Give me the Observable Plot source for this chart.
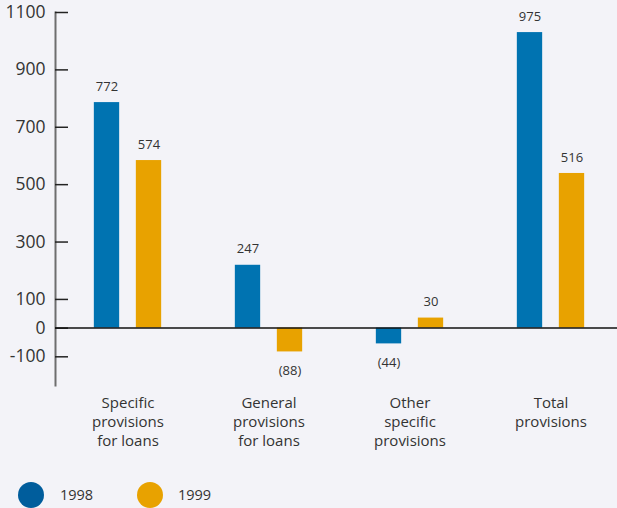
<!DOCTYPE html>
<html>
<head>
<meta charset="utf-8">
<script src="https://cdn.jsdelivr.net/npm/d3@7"></script>
<script src="https://cdn.jsdelivr.net/npm/@observablehq/plot@0.6"></script>
<style>
  html, body { margin: 0; padding: 0; background: #f3f3f8; }
  body { width: 617px; height: 508px; overflow: hidden; font-family: "Open Sans", Lato, sans-serif; }
  #legend { position: relative; height: 43px; }
  .sw { position: absolute; width: 26px; height: 26px; border-radius: 50%; top: 17px; }
  .lt { position: absolute; top: 20px; font-size: 14.5px; color: #333; }
</style>
</head>
<body>
<div id="chart"></div>
<div id="legend"></div>
<script>
const categories = ["Specific\nprovisions\nfor loans", "General\nprovisions\nfor loans", "Other\nspecific\nprovisions", "Total\nprovisions"];
const years = ["1998", "1999"];
// bar heights as drawn in the picture
const values1998 = [786, 219, -55, 1030];
const values1999 = [584, -83, 35, 539];
// printed value labels
const labels1998 = ["772", "247", "(44)", "975"];
const labels1999 = ["574", "(88)", "30", "516"];
const yTicks = [1100, 900, 700, 500, 300, 100, 0, -100];
const colors = ["#0073b1", "#e8a200"];
const legendColors = ["#005d9c", "#e8a200"];

const rows = [];
categories.forEach((c, i) => {
  rows.push({cat: c, year: "1998", value: values1998[i], label: labels1998[i]});
  rows.push({cat: c, year: "1999", value: values1999[i], label: labels1999[i]});
});
const r98 = rows.filter(d => d.year === "1998");
const r99 = rows.filter(d => d.year === "1999");
const inset = (141.67 - 26) / 2;

function labelMarks(data, dx) {
  return [
    Plot.text(data.filter(d => d.value >= 0), {x: "cat", y: "value", text: "label", dx, dy: -16, fontSize: 13, fill: "#333"}),
    Plot.text(data.filter(d => d.value < 0), {x: "cat", y: "value", text: "label", dx, dy: 19, fontSize: 13, fill: "#333"})
  ];
}

const chart = Plot.plot({
  width: 617,
  height: 465,
  marginTop: 12,
  marginBottom: 80,
  marginLeft: 55,
  marginRight: 0,
  style: {background: "#f3f3f8", fontFamily: "'Open Sans', Lato, sans-serif", color: "#333"},
  x: {domain: categories, range: [55.17, 621.85], padding: 0},
  y: {domain: [-200, 1100], range: [385, 12]},
  marks: [
    Plot.frame({anchor: "left", stroke: "#6e6e6e", strokeWidth: 2}),
    Plot.axisY({ticks: yTicks, tickSize: -13, stroke: "#222", strokeWidth: 1.5, text: null, label: null}),
    Plot.axisY({ticks: yTicks, tickSize: 0, tickPadding: 10, fontSize: 17.5, fill: "#333", tickFormat: d => String(d), label: null}),
    Plot.axisX({tickSize: 0, tickPadding: 9, fontSize: 15, lineHeight: 1.27, fill: "#333", lineAnchor: "top", label: null}),
    Plot.barY(r98, {x: "cat", y: "value", fill: colors[0], insetLeft: inset, insetRight: inset, dx: -21}),
    Plot.barY(r99, {x: "cat", y: "value", fill: colors[1], insetLeft: inset, insetRight: inset, dx: 21}),
    Plot.ruleY([0], {stroke: "#111", strokeWidth: 1.5}),
    ...labelMarks(r98, -21),
    ...labelMarks(r99, 21)
  ]
});
document.getElementById("chart").appendChild(chart);

const legend = document.getElementById("legend");
const pos = [[18, 60], [137, 178]];
years.forEach((y, i) => {
  const s = document.createElement("div");
  s.className = "sw";
  s.style.left = pos[i][0] + "px";
  s.style.background = legendColors[i];
  legend.appendChild(s);
  const t = document.createElement("div");
  t.className = "lt";
  t.style.left = pos[i][1] + "px";
  t.textContent = y;
  legend.appendChild(t);
});
</script>
</body>
</html>
